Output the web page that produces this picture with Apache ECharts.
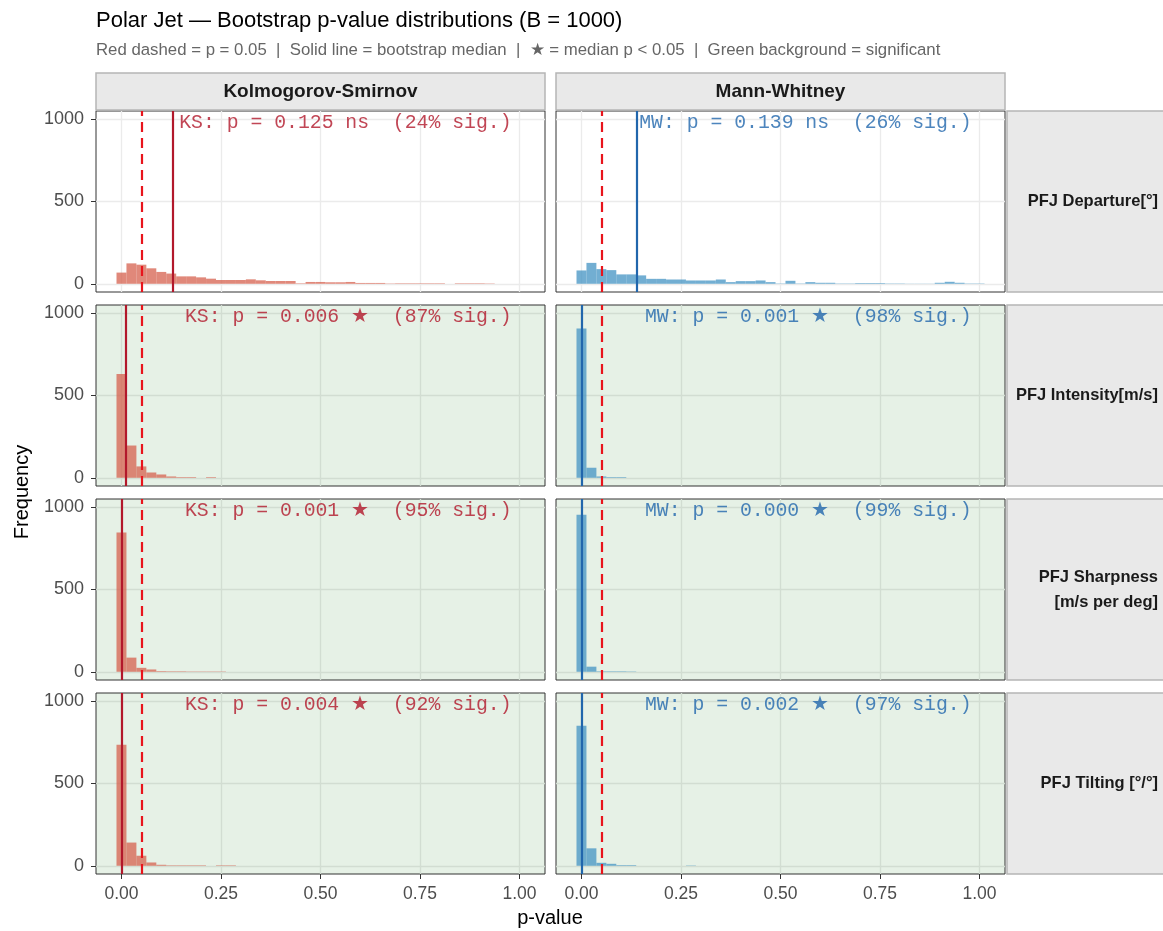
<!DOCTYPE html>
<html>
<head>
<meta charset="utf-8">
<script src="https://cdn.jsdelivr.net/npm/echarts@6.0.0/dist/echarts.min.js"></script>
<style>
  html, body { margin: 0; padding: 0; background: #fff; }
  #chart { width: 1163px; height: 931px; }
</style>
</head>
<body>
<div id="chart"></div>
<script>
// histogram bin centres (bin width 0.025)
const binCenters = [0.000, 0.025, 0.050, 0.075, 0.100, 0.125, 0.150, 0.175, 0.200, 0.225,
  0.250, 0.275, 0.300, 0.325, 0.350, 0.375, 0.400, 0.425, 0.450, 0.475,
  0.500, 0.525, 0.550, 0.575, 0.600, 0.625, 0.650, 0.675, 0.700, 0.725,
  0.750, 0.775, 0.800, 0.825, 0.850, 0.875, 0.900, 0.925, 0.950, 0.975, 1.000]
const binWidth = 0.025

// bootstrap counts per bin
const ksDeparture = [68, 124, 116, 94, 72, 62, 45, 45, 39, 31, 23, 23, 23, 27, 21, 17, 17, 17, 3, 11,
  11, 9, 9, 11, 5, 5, 5, 2, 3, 3, 3, 3, 3, 0, 3, 3, 3, 2, 0, 0, 0]
const mwDeparture = [81, 127, 89, 83, 57, 57, 51, 30, 30, 26, 26, 20, 20, 20, 26, 10, 16, 16, 20, 10,
  2, 18, 2, 10, 6, 6, 2, 2, 4, 4, 4, 2, 2, 1, 1, 1, 6, 12, 6, 2, 2]
const ksIntensity = [630, 196, 69, 32, 20, 8, 4, 4, 0, 4, 0, 0, 0, 0, 0, 0, 0, 0, 0, 0,
  0, 0, 0, 0, 0, 0, 0, 0, 0, 0, 0, 0, 0, 0, 0, 0, 0, 0, 0, 0, 0]
const mwIntensity = [907, 61, 8, 4, 4, 0, 0, 0, 0, 0, 0, 0, 0, 0, 0, 0, 0, 0, 0, 0,
  0, 0, 0, 0, 0, 0, 0, 0, 0, 0, 0, 0, 0, 0, 0, 0, 0, 0, 0, 0, 0]
const ksSharpness = [847, 86, 24, 14, 4, 3, 3, 2, 2, 2, 2, 0, 0, 0, 0, 0, 0, 0, 0, 0,
  0, 0, 0, 0, 0, 0, 0, 0, 0, 0, 0, 0, 0, 0, 0, 0, 0, 0, 0, 0, 0]
const mwSharpness = [955, 31, 3, 3, 3, 2, 0, 0, 0, 0, 0, 0, 0, 0, 0, 0, 0, 0, 0, 0,
  0, 0, 0, 0, 0, 0, 0, 0, 0, 0, 0, 0, 0, 0, 0, 0, 0, 0, 0, 0, 0]
const ksTilting = [735, 141, 61, 20, 6, 3, 3, 3, 3, 0, 3, 3, 0, 0, 0, 0, 0, 0, 0, 0,
  0, 0, 0, 0, 0, 0, 0, 0, 0, 0, 0, 0, 0, 0, 0, 0, 0, 0, 0, 0, 0]
const mwTilting = [851, 106, 18, 12, 4, 4, 0, 0, 0, 0, 0, 2, 0, 0, 0, 0, 0, 0, 0, 0,
  0, 0, 0, 0, 0, 0, 0, 0, 0, 0, 0, 0, 0, 0, 0, 0, 0, 0, 0, 0, 0]

const rowLabels = ['PFJ Departure[°]', 'PFJ Intensity[m/s]', 'PFJ Sharpness\n[m/s per deg]', 'PFJ Tilting [°/°]']
const colLabels = ['Kolmogorov-Smirnov', 'Mann-Whitney']
const testTags = ['KS', 'MW']
const medianKS = [0.125, 0.006, 0.001, 0.004]
const medianMW = [0.139, 0.001, 0.000, 0.002]
const sigPctKS = [24, 87, 95, 92]
const sigPctMW = [26, 98, 99, 97]
const xTicks = [0, 0.25, 0.5, 0.75, 1]
const yTicks = [0, 500, 1000]
const alpha = 0.05

const countsKS = [ksDeparture, ksIntensity, ksSharpness, ksTilting]
const countsMW = [mwDeparture, mwIntensity, mwSharpness, mwTilting]

// layout (px)
const colLeft = [96, 556]
const rowTop = [111, 305, 499, 693]
const panelW = 449
const panelH = 181

const fillColor = ['rgba(214,96,77,0.75)', 'rgba(67,147,195,0.75)']
const lineColor = ['#b2182b', '#2166ac']
const textColor = ['#b2182b', '#2166ac']

const chart = echarts.init(document.getElementById('chart'))

const grids = []
const xAxes = []
const yAxes = []
const series = []
const graphics = []

for (let r = 0; r < 4; r++) {
  for (let c = 0; c < 2; c++) {
    const i = r * 2 + c
    const counts = c === 0 ? countsKS[r] : countsMW[r]
    const med = c === 0 ? medianKS[r] : medianMW[r]
    const pct = c === 0 ? sigPctKS[r] : sigPctMW[r]
    const sig = med < alpha
    const gridLine = sig ? '#d2ddd2' : '#ebebeb'

    grids.push({
      left: colLeft[c],
      top: rowTop[r],
      width: panelW,
      height: panelH,
      show: true,
      backgroundColor: sig ? '#e6f1e6' : '#ffffff',
      borderColor: '#333333',
      borderWidth: 1,
      containLabel: false,
      outerBoundsMode: 'none'
    })
    xAxes.push({
      gridIndex: i,
      type: 'value',
      position: 'bottom',
      min: -0.064,
      max: 1.064,
      axisLine: { show: false, onZero: false },
      axisTick: { show: r === 3, length: 5, customValues: xTicks, lineStyle: { color: '#333' } },
      axisLabel: {
        show: r === 3,
        customValues: xTicks,
        margin: 11,
        fontSize: 17.5,
        color: '#4d4d4d',
        fontFamily: 'Liberation Sans',
        formatter: v => v.toFixed(2)
      },
      splitLine: { show: true, lineStyle: { color: gridLine, width: 1.3 } }
    })
    yAxes.push({
      gridIndex: i,
      type: 'value',
      position: 'left',
      min: -50,
      max: 1050,
      axisLine: { show: false, onZero: false },
      axisTick: { show: c === 0, length: 5, customValues: yTicks, lineStyle: { color: '#333' } },
      axisLabel: {
        show: c === 0,
        customValues: yTicks,
        margin: 12,
        fontSize: 18,
        color: '#4d4d4d',
        fontFamily: 'Liberation Sans',
        formatter: v => String(v)
      },
      splitLine: { show: true, lineStyle: { color: gridLine, width: 1.3 } }
    })

    series.push({
      type: 'custom',
      xAxisIndex: i,
      yAxisIndex: i,
      encode: { x: 0, y: 1 },
      data: counts.map((v, k) => [binCenters[k], v]),
      renderItem: function (params, api) {
        const ctr = api.value(0)
        const h = api.value(1)
        const p0 = api.coord([ctr - binWidth / 2, h])
        const p1 = api.coord([ctr + binWidth / 2, 0])
        return {
          type: 'rect',
          shape: { x: p0[0], y: p0[1], width: p1[0] - p0[0], height: p1[1] - p0[1] },
          style: { fill: fillColor[c] }
        }
      },
      markLine: {
        silent: true,
        symbol: ['none', 'none'],
        label: { show: false },
        animation: false,
        data: [
          { xAxis: alpha, lineStyle: { color: '#e8141c', type: [10, 6], width: 2.2 } },
          { xAxis: med, lineStyle: { color: lineColor[c], type: 'solid', width: 2.2 } }
        ]
      },
      z: 2
    })

    const annot = testTags[c] + ': p = ' + med.toFixed(3) + ' ' + (sig ? '★' : 'ns') + '  (' + pct + '% sig.)'
    series.push({
      type: 'scatter',
      xAxisIndex: i,
      yAxisIndex: i,
      data: [[0.98, 978]],
      symbolSize: 0,
      silent: true,
      itemStyle: { color: 'rgba(0,0,0,0)' },
      label: {
        show: true,
        position: 'left',
        distance: 0,
        formatter: annot,
        fontFamily: 'Liberation Mono',
        fontSize: 19.8,
        color: textColor[c]
      },
      z: 5
    })
  }
}

// column strips
for (let c = 0; c < 2; c++) {
  graphics.push({
    type: 'rect',
    shape: { x: colLeft[c], y: 73, width: panelW, height: 37 },
    style: { fill: '#e9e9e9', stroke: '#b5b5b5', lineWidth: 1.5 }
  })
  graphics.push({
    type: 'text',
    x: colLeft[c] + panelW / 2,
    y: 92,
    style: {
      text: colLabels[c],
      fill: '#1a1a1a',
      font: 'bold 19px "Liberation Sans"',
      textAlign: 'center',
      textVerticalAlign: 'middle'
    }
  })
}
// row strips
for (let r = 0; r < 4; r++) {
  graphics.push({
    type: 'rect',
    shape: { x: 1007, y: rowTop[r], width: 170, height: panelH },
    style: { fill: '#e9e9e9', stroke: '#b5b5b5', lineWidth: 1.5 }
  })
  graphics.push({
    type: 'text',
    x: 1158,
    y: rowTop[r] + panelH / 2,
    style: {
      text: rowLabels[r],
      fill: '#1a1a1a',
      font: 'bold 16.5px "Liberation Sans"',
      textAlign: 'right',
      textVerticalAlign: 'middle',
      lineHeight: 25
    }
  })
}
// titles
graphics.push({
  type: 'text', x: 96, y: 21,
  style: { text: 'Polar Jet — Bootstrap p-value distributions (B = 1000)', fill: '#000', font: '22px "Liberation Sans"', textVerticalAlign: 'middle' }
})
graphics.push({
  type: 'text', x: 96, y: 50,
  style: {
    text: 'Red dashed = p = 0.05  |  Solid line = bootstrap median  |  ★ = median p < 0.05  |  Green background = significant',
    fill: '#666', font: '16.8px "Liberation Sans"', textVerticalAlign: 'middle'
  }
})
graphics.push({
  type: 'text', x: 550, y: 918,
  style: { text: 'p-value', fill: '#000', font: '20px "Liberation Sans"', textAlign: 'center', textVerticalAlign: 'middle' }
})
graphics.push({
  type: 'text', x: 22, y: 492, rotation: Math.PI / 2,
  style: { text: 'Frequency', fill: '#000', font: '20px "Liberation Sans"', textAlign: 'center', textVerticalAlign: 'middle' }
})

chart.setOption({
  animation: false,
  backgroundColor: '#fff',
  grid: grids,
  xAxis: xAxes,
  yAxis: yAxes,
  series: series,
  graphic: graphics
})
</script>
</body>
</html>
